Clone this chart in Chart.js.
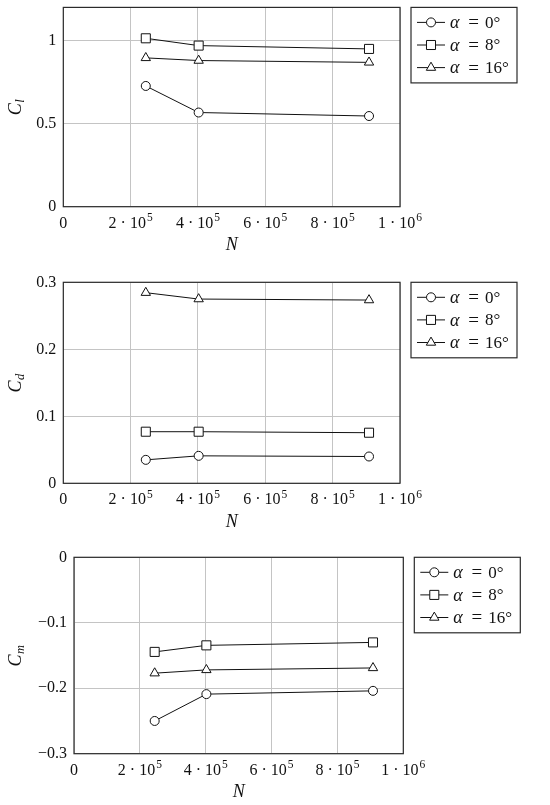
<!DOCTYPE html>
<html>
<head>
<meta charset="utf-8">
<script src="https://cdn.jsdelivr.net/npm/chart.js@4.4.1/dist/chart.umd.min.js"></script>
<style>
  html, body { margin: 0; padding: 0; background: #fff; }
  #wrap { position: relative; width: 550px; height: 805px; }
  canvas { position: absolute; left: 0; }
</style>
</head>
<body>
<div id="wrap">
  <canvas id="c1" width="550" height="268" style="top:0px"></canvas>
  <canvas id="c2" width="550" height="268" style="top:268px"></canvas>
  <canvas id="c3" width="550" height="269" style="top:536px"></canvas>
</div>
<script>
// data
const reynolds = [2.45e5, 4.02e5, 9.08e5];
const alphas = [0, 8, 16];
const markers = ['circle', 'rect', 'triangle'];
const markerRadius = [4.5, 6.4, 5.4];

const cl0 = [0.727, 0.567, 0.546];
const cl8 = [1.014, 0.970, 0.950];
const cl16 = [0.896, 0.880, 0.869];

const cd0 = [0.035, 0.041, 0.040];
const cd8 = [0.077, 0.077, 0.0755];
const cd16 = [0.2845, 0.275, 0.2735];

const cm0 = [-0.250, -0.209, -0.204];
const cm8 = [-0.1445, -0.1345, -0.130];
const cm16 = [-0.177, -0.172, -0.169];

const xTicks = [0, 2e5, 4e5, 6e5, 8e5, 1e6];
const clTicks = [0, 0.5, 1];
const cdTicks = [0, 0.1, 0.2, 0.3];
const cmTicks = [-0.3, -0.2, -0.1, 0];

const FONT = "'Liberation Serif', 'DejaVu Serif', serif";

let fmtY = (v) => (v < 0 ? '\u2212' : '') + String(Math.abs(Math.round(v * 100) / 100));

// x tick labels as mantissa + raised exponent
let drawXLabel = (ctx, v, cx, baseY) => {
    if (v === 0) {
        ctx.font = '16px ' + FONT;
        ctx.textAlign = 'center';
        ctx.fillText('0', cx, baseY);
        return;
    }
    const e = Math.floor(Math.log10(v) + 1e-9);
    const m = Math.round(v / Math.pow(10, e));
    const main = m + ' \u00b7 10', sup = String(e);
    ctx.font = '16px ' + FONT;
    const w1 = ctx.measureText(main).width;
    ctx.font = '11.5px ' + FONT;
    const w2 = ctx.measureText(sup).width;
    const x0 = cx - (w1 + w2 + 1) / 2;
    ctx.textAlign = 'left';
    ctx.font = '16px ' + FONT;
    ctx.fillText(main, x0, baseY);
    ctx.font = '11.5px ' + FONT;
    ctx.fillText(sup, x0 + w1 + 1, baseY - 6.5);
};

// frame, x labels, axis titles and legend
const decor = {
    id: 'decor',
    beforeDatasetsDraw(chart) {
        const a = chart.chartArea, ctx = chart.ctx;
        ctx.save();
        ctx.strokeStyle = '#2b2b2b';
        ctx.lineWidth = 1.2;
        ctx.strokeRect(a.left, a.top, a.right - a.left, a.bottom - a.top);
        ctx.restore();
    },
    afterDraw(chart, args, opts) {
        const a = chart.chartArea, ctx = chart.ctx;
        const xs = chart.scales.x;
        ctx.save();
        ctx.fillStyle = '#111';
        ctx.textBaseline = 'alphabetic';
        xTicks.forEach(v => drawXLabel(ctx, v, xs.getPixelForValue(v), a.bottom + 21));
        // x title
        ctx.font = 'italic 18px ' + FONT;
        ctx.textAlign = 'center';
        ctx.textBaseline = 'middle';
        ctx.fillText('N', (a.left + a.right) / 2, a.bottom + 39);
        // y title with subscript
        ctx.save();
        ctx.translate(15, (a.top + a.bottom) / 2);
        ctx.rotate(-Math.PI / 2);
        ctx.font = 'italic 18px ' + FONT;
        const wC = ctx.measureText('C').width;
        ctx.font = 'italic 12.5px ' + FONT;
        const wS = ctx.measureText(opts.sub).width;
        const x0 = -(wC + wS + 1) / 2;
        ctx.textAlign = 'left';
        ctx.textBaseline = 'alphabetic';
        ctx.font = 'italic 18px ' + FONT;
        ctx.fillText('C', x0, 6);
        ctx.font = 'italic 12.5px ' + FONT;
        ctx.fillText(opts.sub, x0 + wC + 0.5, 9);
        ctx.restore();
        // legend
        const lx = a.right + 11, ly = a.top, lw = 106, lh = 75.5;
        ctx.fillStyle = '#fff';
        ctx.fillRect(lx, ly, lw, lh);
        ctx.strokeStyle = '#2b2b2b';
        ctx.lineWidth = 1.2;
        ctx.strokeRect(lx, ly, lw, lh);
        chart.data.datasets.forEach((ds, i) => {
            const y = ly + 15 + i * 22.6;
            ctx.strokeStyle = '#111';
            ctx.lineWidth = 1;
            ctx.beginPath();
            ctx.moveTo(lx + 6, y);
            ctx.lineTo(lx + 34, y);
            ctx.stroke();
            ctx.fillStyle = '#fff';
            Chart.helpers.drawPoint(ctx, { pointStyle: ds.pointStyle, radius: ds.pointRadius, borderWidth: 1 }, lx + 20, y);
            ctx.fillStyle = '#111';
            ctx.textBaseline = 'middle';
            ctx.textAlign = 'left';
            ctx.font = 'italic 18px ' + FONT;
            ctx.fillText('\u03b1', lx + 39, y + 1);
            ctx.textAlign = 'center';
            ctx.font = '19px ' + FONT;
            ctx.fillText('=', lx + 62.5, y + 1);
            ctx.textAlign = 'left';
            ctx.font = '17px ' + FONT;
            ctx.fillText(alphas[i] + '\u00b0', lx + 74, y + 1);
        });
        ctx.restore();
    }
};

let makeChart = (id, series, yTicks, yMin, yMax, sub, box) => {
    const canvas = document.getElementById(id);
    const H = canvas.height, W = canvas.width;
    new Chart(canvas, {
        type: 'line',
        data: {
            datasets: series.map((vals, i) => ({
                label: '\u03b1 = ' + alphas[i] + '\u00b0',
                data: vals.map((v, j) => ({ x: reynolds[j], y: v })),
                borderColor: '#111',
                borderWidth: 1,
                backgroundColor: '#fff',
                pointStyle: markers[i],
                pointRadius: markerRadius[i],
                pointBorderWidth: 1,
                pointBackgroundColor: '#fff',
                pointBorderColor: '#111',
                tension: 0
            }))
        },
        options: {
            responsive: false,
            animation: false,
            events: [],
            layout: { padding: { left: 0, top: box.top, right: W - box.right, bottom: 0 } },
            plugins: {
                legend: { display: false },
                tooltip: { enabled: false },
                decor: { sub: sub }
            },
            scales: {
                x: {
                    type: 'linear',
                    min: 0, max: 1e6,
                    afterBuildTicks: (s) => { s.ticks = xTicks.map(v => ({ value: v })); },
                    afterFit: (s) => {
                        s.height = H - box.bottom;
                        s.paddingLeft = s.paddingRight = s.paddingTop = s.paddingBottom = 0;
                    },
                    grid: { color: '#c4c4c4', lineWidth: 1, drawTicks: false },
                    border: { display: false },
                    ticks: { display: false }
                },
                y: {
                    min: yMin, max: yMax,
                    afterBuildTicks: (s) => { s.ticks = yTicks.map(v => ({ value: v })); },
                    afterFit: (s) => {
                        s.width = box.left;
                        s.paddingLeft = s.paddingRight = s.paddingTop = s.paddingBottom = 0;
                    },
                    grid: { color: '#c4c4c4', lineWidth: 1, drawTicks: false },
                    border: { display: false },
                    ticks: { callback: fmtY, padding: 7, color: '#111', font: { family: FONT, size: 16 } }
                }
            }
        },
        plugins: [decor]
    });
};

makeChart('c1', [cl0, cl8, cl16], clTicks, 0, 1.2, 'l', { left: 63.3, right: 400, top: 5, bottom: 206.7 });
makeChart('c2', [cd0, cd8, cd16], cdTicks, 0, 0.3, 'd', { left: 63.3, right: 400, top: 14.3, bottom: 215.3 });
makeChart('c3', [cm0, cm8, cm16], cmTicks, -0.3, 0, 'm', { left: 74, right: 403.3, top: 21.3, bottom: 217.7 });
</script>
</body>
</html>
